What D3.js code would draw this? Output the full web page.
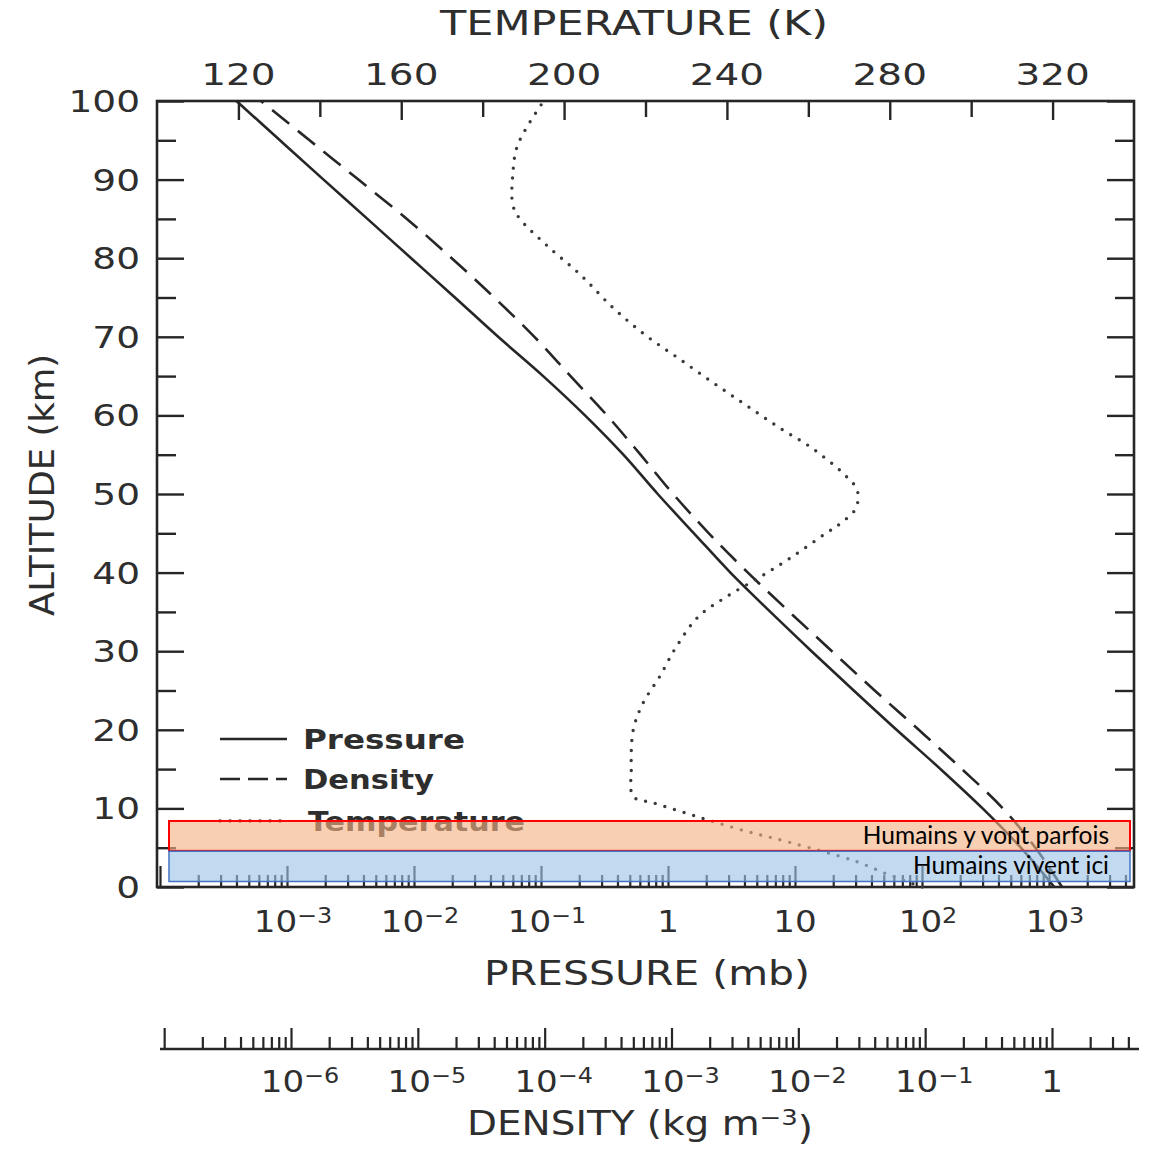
<!DOCTYPE html>
<html>
<head>
<meta charset="utf-8">
<script src="https://cdn.jsdelivr.net/npm/d3@7"></script>
<style>
  body { margin: 0; background: #fff; }
  svg { display: block; }
  text { font-family: "DejaVu Sans", sans-serif; fill: #2e2e2e; }
</style>
</head>
<body>
<script>
// ---- Standard-atmosphere profiles ----
const altitudeKm = [0, 5, 10, 15, 20, 25, 30, 35, 40, 45, 50, 55, 60, 65, 70, 75, 80, 85, 90, 95, 100];
const pressureMb = [1100, 600, 300, 140, 63, 29, 13.5, 6.4, 3.1, 1.6, 0.83, 0.445, 0.222, 0.104,
                    0.046, 0.021, 0.0095, 0.0043, 0.00194, 0.00088, 0.0004];
const densityKgM3 = [1.2, 0.74, 0.41, 0.195, 0.089, 0.040, 0.0184, 0.0085, 0.0040, 0.00197, 0.00103,
                     5.7e-4, 3.1e-4, 1.6e-4, 8.3e-5, 4.0e-5, 1.85e-5, 8.2e-6, 3.4e-6, 1.4e-6, 5.8e-7];

const tempAltKm = [0, 1.5, 3.2, 5.6, 7.2, 8.9, 10.7, 11.5, 15, 20, 23.4, 26.7, 30.5, 34.4, 36.9, 39.4,
                   42, 45, 46.3, 48.2, 50.5, 52.4, 55.8, 58.4, 61.3, 64.2, 67.3, 70.2, 73.7, 77.9,
                   81.7, 85.1, 86.8, 90.6, 94.4, 100];
const temperatureK = [288, 280, 272, 256, 244, 233, 222, 217, 216.5, 217, 219.4, 223.4, 227.5, 233, 239.8, 248,
                      256, 264.3, 268, 271.7, 272, 269, 261, 253, 244.7, 236.5, 228, 220, 212, 204,
                      195.6, 189, 187.4, 187.4, 188.6, 195];

// ---- Axis labels ----
const altitudeTicks = [0, 10, 20, 30, 40, 50, 60, 70, 80, 90, 100];
const temperatureTicks = [120, 160, 200, 240, 280, 320];
const pressureExponents = [-3, -2, -1, 0, 1, 2, 3];
const densityExponents = [-6, -5, -4, -3, -2, -1, 0];
const legendLabels = ["Pressure", "Density", "Temperature"];

// Shaded altitude bands (km)
const bandRanges = [[4.6, 8.4], [0.7, 4.55]];
const bandLabels = ["Humains y vont parfois", "Humains vivent ici"];

// ---- Layout ----
const W = 1153, H = 1153;
const plot = { left: 157, right: 1134, top: 101, bottom: 887 };
const ink = "#262626";

const svg = d3.select("body").append("svg").attr("width", W).attr("height", H);

const y = d3.scaleLinear().domain([0, 100]).range([plot.bottom, plot.top]);
const xT = d3.scaleLinear().domain([100, 340]).range([plot.left, plot.right]);
const xP = d3.scaleLog().domain([1e-4, 1e3]).range([160, 1049]);
const xD = d3.scaleLog().domain([1e-6, 1]).range([291, 1052]);

const isDecade = v => Math.abs(Math.log10(v) - Math.round(Math.log10(v))) < 1e-6;

function label(parent, x, yPos, str, o) {
  const t = parent.append("text")
    .attr("transform", `translate(${x},${yPos}) scale(${o.sx || 1},1)`)
    .attr("text-anchor", o.anchor || "middle")
    .style("font-size", o.size + "px")
    .style("font-weight", o.weight || "normal");
  if (str !== null) t.text(str);
  if (o.len) t.attr("textLength", o.len).attr("lengthAdjust", "spacingAndGlyphs");
  return t;
}

function powerLabel(parent, x, yPos, e, o) {
  if (e === 0) return label(parent, x, yPos, "1", o);
  if (e === 1) return label(parent, x, yPos, "10", o);
  const t = label(parent, x, yPos, null, o);
  t.append("tspan").text("10");
  t.append("tspan").attr("dy", "-0.42em").style("font-size", (o.size * 0.7) + "px")
    .text(e < 0 ? "\u2212" + Math.abs(e) : String(e));
  return t;
}

function logTicks(scale, eMin, eMax, xMin, xMax) {
  const out = [];
  for (let e = eMin; e <= eMax; e++) {
    for (let m = 1; m <= 9; m++) {
      const v = m * Math.pow(10, e);
      const px = scale(v);
      if (px >= xMin && px <= xMax) out.push(v);
    }
  }
  return out;
}

// ---- Altitude axes (left with labels, right ticks only) ----
const altMinor = d3.range(0, 101, 5);
const leftAxis = svg.append("g").attr("transform", `translate(${plot.left},0)`)
  .call(d3.axisRight(y).tickValues(altMinor).tickFormat(() => "").tickSizeOuter(0));
leftAxis.select(".domain").remove();
leftAxis.selectAll(".tick line").attr("x2", d => d % 10 === 0 ? 27 : 19)
  .attr("stroke", ink).attr("stroke-width", 2.4);

const rightAxis = svg.append("g").attr("transform", `translate(${plot.right},0)`)
  .call(d3.axisLeft(y).tickValues(altMinor).tickFormat(() => "").tickSizeOuter(0));
rightAxis.select(".domain").remove();
rightAxis.selectAll(".tick line").attr("x2", d => d % 10 === 0 ? -27 : -19)
  .attr("stroke", ink).attr("stroke-width", 2.4);

const altLabels = svg.append("g");
altitudeTicks.forEach(v => {
  label(altLabels, 140, y(v) + 11, String(v), { size: 30, sx: 1.25, anchor: "end" });
});
label(svg, 0, 0, "ALTITUDE (km)", { size: 33, len: 262 })
  .attr("transform", "translate(54,485) rotate(-90)");

// ---- Temperature axis (top) ----
const topAxis = svg.append("g").attr("transform", `translate(0,${plot.top})`)
  .call(d3.axisBottom(xT).tickValues(d3.range(120, 321, 20)).tickFormat(() => "").tickSizeOuter(0));
topAxis.select(".domain").remove();
topAxis.selectAll(".tick line").attr("y2", d => d % 40 === 0 ? 19 : 16)
  .attr("stroke", ink).attr("stroke-width", 2.4);
temperatureTicks.forEach(v => {
  label(svg, xT(v), 85, String(v), { size: 30, sx: 1.3 });
});
label(svg, 634, 35, "TEMPERATURE (K)", { size: 34, len: 388 });

// ---- Pressure axis (bottom, ticks inside) ----
const pTicks = logTicks(xP, -4, 3, plot.left + 2, plot.right - 3);
const bottomAxis = svg.append("g").attr("transform", `translate(0,${plot.bottom})`)
  .call(d3.axisTop(xP).tickValues(pTicks).tickFormat(() => "").tickSizeOuter(0));
bottomAxis.select(".domain").remove();
bottomAxis.selectAll(".tick line").attr("y2", d => isDecade(d) ? -21 : -12)
  .attr("stroke", ink).attr("stroke-width", 2.2);
pressureExponents.forEach(e => {
  powerLabel(svg, xP(Math.pow(10, e)) + (e > 1 || e < 0 ? 6 : 0), 932, e, { size: 31, sx: 1.1 });
});
label(svg, 647, 985, "PRESSURE (mb)", { size: 33, len: 326 });

// ---- Density axis (separate scale below) ----
const dTicks = logTicks(xD, -7, 0, 160, 1135);
const densAxis = svg.append("g").attr("transform", "translate(0,1049)")
  .call(d3.axisTop(xD).tickValues(dTicks).tickFormat(() => "").tickSizeOuter(0));
densAxis.select(".domain").remove();
densAxis.selectAll(".tick line").attr("y2", d => isDecade(d) ? -21 : -12)
  .attr("stroke", ink).attr("stroke-width", 2.2);
densAxis.append("line").attr("x1", 160).attr("x2", 1139).attr("y1", 0).attr("y2", 0)
  .attr("stroke", ink).attr("stroke-width", 2.6);
densityExponents.forEach(e => {
  powerLabel(svg, xD(Math.pow(10, e)) + (e < 0 ? 9 : 0), 1092, e, { size: 31, sx: 1.1 });
});
const dTitle = label(svg, 640, 1135, null, { size: 33, sx: 1.18 });
dTitle.append("tspan").text("DENSITY (kg m");
dTitle.append("tspan").attr("dy", "-0.45em").style("font-size", "22px").text("\u22123");
dTitle.append("tspan").attr("dy", "0.45em").text(")");

// ---- Frame ----
svg.append("rect")
  .attr("x", plot.left).attr("y", plot.top)
  .attr("width", plot.right - plot.left).attr("height", plot.bottom - plot.top)
  .attr("fill", "none").attr("stroke", ink).attr("stroke-width", 2.6);

// ---- Profiles ----
const pressureRows = altitudeKm.map((a, i) => ({ alt: a, v: pressureMb[i] }));
const densityRows = altitudeKm.map((a, i) => ({ alt: a, v: densityKgM3[i] }));
const tempRows = tempAltKm.map((a, i) => ({ alt: a, v: temperatureK[i] }));

svg.append("path").datum(pressureRows)
  .attr("d", d3.line().x(d => xP(d.v)).y(d => y(d.alt)).curve(d3.curveCatmullRom))
  .attr("fill", "none").attr("stroke", ink).attr("stroke-width", 2.6);

svg.append("path").datum(densityRows)
  .attr("d", d3.line().x(d => xD(d.v)).y(d => y(d.alt)).curve(d3.curveCatmullRom))
  .attr("fill", "none").attr("stroke", ink).attr("stroke-width", 2.6)
  .attr("stroke-dasharray", "22 11");

svg.append("path").datum(tempRows)
  .attr("d", d3.line().x(d => xT(d.v)).y(d => y(d.alt)).curve(d3.curveCatmullRom))
  .attr("fill", "none").attr("stroke", "#3a3a3a").attr("stroke-width", 3.4)
  .attr("stroke-linecap", "round").attr("stroke-dasharray", "0 10");

// ---- Legend ----
const legend = svg.append("g");
const legendY = [739, 779, 821];
const legendDash = [null, "20 8", "0 10"];
const legendLen = [162, 131, 217];
legendLabels.forEach((name, i) => {
  legend.append("line").attr("x1", 220).attr("x2", 287).attr("y1", legendY[i]).attr("y2", legendY[i])
    .attr("stroke", ink).attr("stroke-width", i === 2 ? 3.4 : 2.6)
    .attr("stroke-linecap", i === 2 ? "round" : "butt")
    .attr("stroke-dasharray", legendDash[i]);
  label(legend, i === 2 ? 308 : 303, legendY[i] + 10, name,
        { size: 27, weight: "bold", anchor: "start", len: legendLen[i] });
});

// ---- Altitude bands ----
const bandFill = ["#f4b183", "#9dc3e6"];
const bandStroke = ["#ff0000", "#4472c4"];
const bands = svg.append("g");
bandRanges.forEach((r, i) => {
  bands.append("rect")
    .attr("x", 169).attr("width", 1130 - 169)
    .attr("y", y(r[1])).attr("height", y(r[0]) - y(r[1]))
    .attr("fill", bandFill[i]).attr("fill-opacity", 0.62)
    .attr("stroke", bandStroke[i]).attr("stroke-width", i === 0 ? 2 : 1.5);
  bands.append("text")
    .attr("x", 1109).attr("y", y(r[0]) - 7)
    .attr("text-anchor", "end")
    .style("font-family", "Lato, 'Open Sans', sans-serif")
    .style("font-size", "24.5px").style("fill", "#000")
    .text(bandLabels[i]);
});
</script>
</body>
</html>
